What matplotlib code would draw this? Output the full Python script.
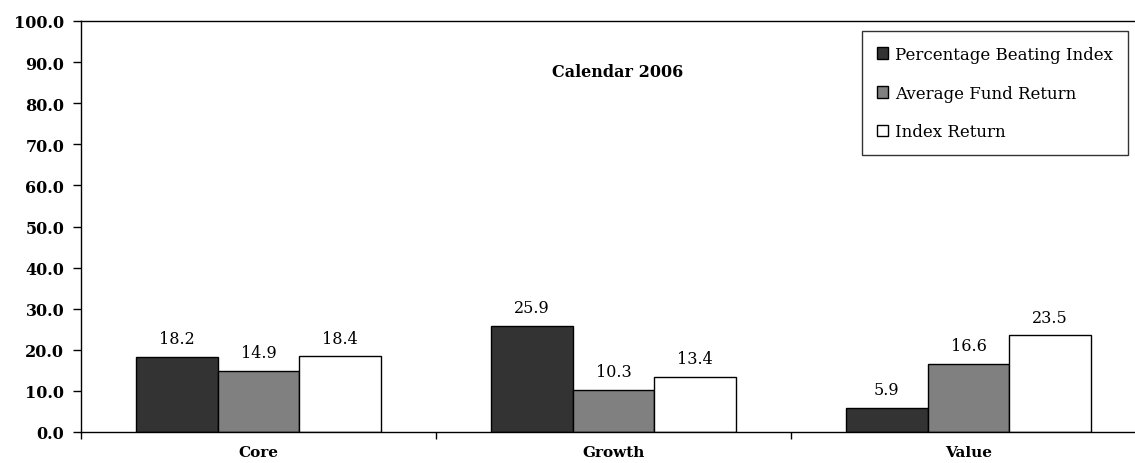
import numpy as np
import matplotlib.pyplot as plt

plt.rcParams['font.family'] = 'DejaVu Serif'

# Données
categories = ['Core', 'Growth', 'Value']
pct_beating = [18.2, 25.9, 5.9]
avg_fund = [14.9, 10.3, 16.6]
index_ret = [18.4, 13.4, 23.5]
series_names = ['Percentage Beating Index', 'Average Fund Return', 'Index Return']
y_ticks = np.arange(0, 101, 10)

fig = plt.figure(figsize=(11.35, 4.64), dpi=100)
ax = fig.add_axes([81 / 1135, 31 / 464, 1 - 81 / 1135, 411 / 464])

x = np.arange(len(categories))
w = 0.23
couleurs = ['#333333', '#808080', 'white']
for i, (vals, nom) in enumerate(zip([pct_beating, avg_fund, index_ret], series_names)):
    barres = ax.bar(x + (i - 1) * w, vals, w, color=couleurs[i], edgecolor='black',
                    linewidth=1, label=nom)
    for b, v in zip(barres, vals):
        ax.annotate(f'{v:.1f}', (b.get_x() + b.get_width() / 2, v),
                    xytext=(0, 7), textcoords='offset points',
                    ha='center', va='bottom', fontsize=11.5)

ax.set_xlim(-0.5, 2.5 - 11 / 355)
ax.set_ylim(0, 100)
ax.set_yticks(y_ticks)
ax.set_yticklabels([f'{t:.1f}' for t in y_ticks], fontsize=11.5, fontweight='bold')
ax.tick_params(axis='y', direction='out', length=6, width=1, pad=6)

# graduations x aux limites des catégories
ax.set_xticks([-0.5, 0.5, 1.5])
ax.set_xticklabels([])
ax.set_xticks(x, minor=True)
ax.set_xticklabels(categories, minor=True, fontsize=11, fontweight='bold')
ax.tick_params(axis='x', which='major', direction='out', length=5, width=1)
ax.tick_params(axis='x', which='minor', length=0, pad=9.5)

ax.spines['right'].set_visible(False)
for s in ['left', 'bottom', 'top']:
    ax.spines[s].set_linewidth(1)

ax.text(1.013, 87.8, 'Calendar 2006', ha='center', va='center', fontsize=11.5, fontweight='bold')

leg = ax.legend(loc='upper right', fontsize=12, frameon=True, fancybox=False,
                edgecolor='black', handlelength=0.7, handleheight=0.7, handletextpad=0.4,
                labelspacing=1.3, borderpad=0.9, borderaxespad=0)
leg.get_frame().set_linewidth(1)
leg.set_bbox_to_anchor((1128 / 1135, 432 / 464), transform=fig.transFigure)

fig.savefig('out.png', dpi=100)
